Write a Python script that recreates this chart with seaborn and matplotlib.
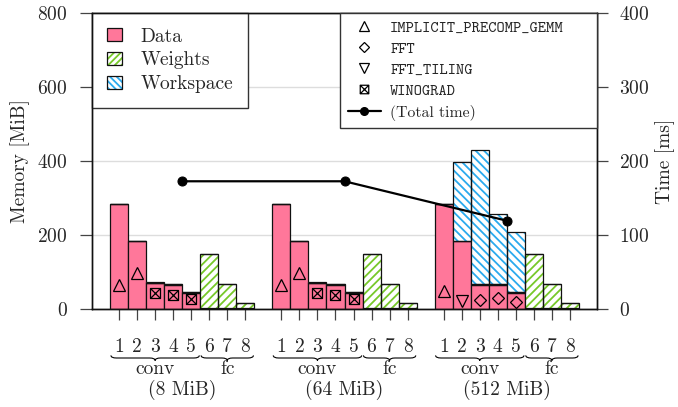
import numpy as np
import pandas as pd
import matplotlib
matplotlib.use("Agg")
import matplotlib.pyplot as plt
from matplotlib.path import Path
from matplotlib.patches import Patch, PathPatch
from matplotlib.lines import Line2D
from matplotlib.legend_handler import HandlerTuple
from matplotlib.transforms import blended_transform_factory
import seaborn as sns

# ---------------- data ----------------
groups = ["(8 MiB)", "(64 MiB)", "(512 MiB)"]
layer_labels = ["1", "2", "3", "4", "5", "6", "7", "8"]
layer_kinds = ["conv", "fc"]

data_8 = [283, 183, 69, 66, 44, 1.5, 1.5, 1.5]
data_64 = [283, 183, 69, 66, 44, 1.5, 1.5, 1.5]
data_512 = [283, 183, 66, 66, 43, 1.5, 1.5, 1.5]

weights_8 = [0.5, 1, 1, 2, 2, 148, 66.5, 15.5]
weights_64 = [0.5, 1, 1, 2, 2, 148, 66.5, 15.5]
weights_512 = [0.5, 1, 1, 2, 2, 148, 66.5, 15.5]

workspace_8 = [0, 0, 4, 0, 0, 0, 0, 0]
workspace_64 = [0, 0, 4, 0, 0, 0, 0, 0]
workspace_512 = [1, 212, 363, 190, 163, 0, 0, 0]

time_8 = [32.4, 48.2, 22.0, 18.9, 14.0]
time_64 = [32.4, 48.2, 22.0, 18.9, 14.0]
time_512 = [24.3, 11.2, 12.6, 15.3, 9.9]

algo_8 = ["IMPLICIT_PRECOMP_GEMM", "IMPLICIT_PRECOMP_GEMM", "WINOGRAD", "WINOGRAD", "WINOGRAD"]
algo_64 = ["IMPLICIT_PRECOMP_GEMM", "IMPLICIT_PRECOMP_GEMM", "WINOGRAD", "WINOGRAD", "WINOGRAD"]
algo_512 = ["IMPLICIT_PRECOMP_GEMM", "FFT_TILING", "FFT", "FFT", "FFT"]

total_time = [172.6, 172.6, 119.3]

algo_names = ["IMPLICIT_PRECOMP_GEMM", "FFT", "FFT_TILING", "WINOGRAD"]

# ---------------- style ----------------
sns.set_style("ticks")
plt.rcParams.update({
    "font.family": ["cmr10", "DejaVu Serif"],
    "mathtext.fontset": "cm",
    "axes.formatter.use_mathtext": True,
    "axes.unicode_minus": False,
    "hatch.linewidth": 1.3,
    "font.size": 14,
})

PINK = "#FF779A"
GREEN = "#77C92A"
BLUE = "#2AAAEE"
EDGE = "#111111"

fig = plt.figure(figsize=(6.78, 4.07), dpi=100)
ax = fig.add_axes([92 / 678, 1 - 309 / 407, (597 - 92) / 678, (309 - 13) / 407])
ax2 = ax.twinx()

data_all = [data_8, data_64, data_512]
weights_all = [weights_8, weights_64, weights_512]
work_all = [workspace_8, workspace_64, workspace_512]
time_all = [time_8, time_64, time_512]
algo_all = [algo_8, algo_64, algo_512]

rows = []
for g, grp in enumerate(groups):
    for i, lab in enumerate(layer_labels):
        rows.append(dict(group=grp, layer=lab, pos=g * 9 + i,
                         data=data_all[g][i], weights=weights_all[g][i],
                         workspace=work_all[g][i]))
df = pd.DataFrame(rows)

W = 1.0
x = df["pos"].values
d = df["data"].values
w = df["weights"].values
s = df["workspace"].values

# data
ax.bar(x, d, width=W, color=PINK, edgecolor=EDGE, linewidth=0.9, zorder=2)
# weights (hatched)
ax.bar(x, w, bottom=d, width=W, facecolor="white", edgecolor=GREEN, linewidth=0,
       hatch="////", zorder=2)
ax.bar(x, w, bottom=d, width=W, fill=False, edgecolor=EDGE, linewidth=0.9, zorder=3)
# workspace (hatched)
ax.bar(x, s, bottom=d + w, width=W, facecolor="white", edgecolor=BLUE, linewidth=0,
       hatch="\\\\\\\\", zorder=2)
ax.bar(x, s, bottom=d + w, width=W, fill=False, edgecolor=EDGE, linewidth=0.9, zorder=3)

ax.set_xlim(-1.5, 26.5)
ax.set_ylim(0, 800)
ax.set_yticks([0, 200, 400, 600, 800])
ax.set_ylabel("Memory [MiB]", fontsize=14, labelpad=5)
ax.yaxis.grid(True, color="#dddddd", linewidth=1.0)
ax.set_axisbelow(True)
ax.set_xticks(x, [df["layer"][k] for k in range(len(df))])
ax.tick_params(axis="x", direction="out", length=8, width=0.9, pad=13,
               labelsize=14, color="#444444")
ax.tick_params(axis="y", direction="out", length=8.5, width=0.9, pad=9,
               labelsize=14, color="#444444")
for sp in ax.spines.values():
    sp.set_color(EDGE)
    sp.set_linewidth(1.0)

# time axis
ax2.set_ylim(0, 400)
ax2.set_yticks([0, 100, 200, 300, 400])
ax2.tick_params(axis="y", direction="out", length=8, width=0.9, pad=8,
                labelsize=14, color="#444444")
for sp in ax2.spines.values():
    sp.set_color(EDGE)
    sp.set_linewidth(1.0)

# boxtimes marker
bt_verts = [(-1, -1), (1, -1), (1, 1), (-1, 1), (-1, -1),
            (-1, -1), (1, 1), (-1, 1), (1, -1)]
bt_codes = [Path.MOVETO, Path.LINETO, Path.LINETO, Path.LINETO, Path.CLOSEPOLY,
            Path.MOVETO, Path.LINETO, Path.MOVETO, Path.LINETO]
boxtimes = Path(bt_verts, bt_codes)

marker_style = {
    "IMPLICIT_PRECOMP_GEMM": dict(marker="^", markersize=8.5),
    "FFT": dict(marker="D", markersize=6.5),
    "FFT_TILING": dict(marker="v", markersize=8.5),
    "WINOGRAD": dict(marker=boxtimes, markersize=7.2),
}

for g in range(len(groups)):
    for i, (t, a) in enumerate(zip(time_all[g], algo_all[g])):
        ax2.plot([g * 9 + i], [t], linestyle="none", markerfacecolor="none",
                 markeredgecolor="black", markeredgewidth=0.9, zorder=5,
                 **marker_style[a])

centers = [g * 9 + 3.5 for g in range(len(groups))]
tdf = pd.DataFrame(dict(pos=centers, time=total_time))
sns.lineplot(data=tdf, x="pos", y="time", ax=ax2, color="black", linewidth=1.6,
             marker="o", markersize=6.5, markeredgecolor="black", zorder=6,
             legend=False)
ax2.set_xlabel("")
ax2.set_ylabel("Time [ms]", fontsize=14, labelpad=4)
ax.set_xlim(-1.5, 26.5)

# legends
h_data = Patch(facecolor=PINK, edgecolor=EDGE, linewidth=0.9)
h_w = (Patch(facecolor="white", edgecolor=GREEN, linewidth=0, hatch="/////"),
       Patch(fill=False, edgecolor=EDGE, linewidth=0.9))
h_s = (Patch(facecolor="white", edgecolor=BLUE, linewidth=0, hatch="\\\\\\\\\\"),
       Patch(fill=False, edgecolor=EDGE, linewidth=0.9))
leg1 = ax.legend([h_data, h_w, h_s], ["Data", "Weights", "Workspace"],
                 handler_map={tuple: HandlerTuple(ndivide=1, pad=0)},
                 loc="upper left", bbox_to_anchor=(0, 1), borderaxespad=0,
                 fancybox=False, framealpha=1, edgecolor="#333333",
                 fontsize=14, handlelength=0.8, handleheight=0.65,
                 handletextpad=0.95, labelspacing=0.3, borderpad=0.75)
leg1.get_frame().set_linewidth(1.0)

leg_handles = []
for a in algo_names:
    leg_handles.append(Line2D([], [], linestyle="none", markerfacecolor="none",
                              markeredgecolor="black", markeredgewidth=0.9,
                              **{**marker_style[a],
                                 "markersize": marker_style[a]["markersize"] * 0.85}))
leg_handles.append(Line2D([], [], color="black", linewidth=1.6, marker="o",
                          markersize=5.5))
leg2 = ax2.legend(leg_handles, algo_names + ["(Total time)"],
                  loc="upper right", bbox_to_anchor=(0.491, 0, 0.509, 1.0),
                  mode="expand", borderaxespad=0, fancybox=False, framealpha=1,
                  edgecolor="#333333", fontsize=11.3, handlelength=2.1,
                  handletextpad=0.6, labelspacing=0.38, borderpad=0.5)
leg2.get_frame().set_linewidth(1.0)
for t in leg2.get_texts()[:4]:
    t.set_fontfamily(["cmtt10", "DejaVu Sans Mono"])

# braces and group labels under the axis
trans = blended_transform_factory(ax.transData, fig.transFigure)


def brace(x0, x1, yc, h=2.6 / 407, r=0.3):
    xm = (x0 + x1) / 2
    yt, yb = yc + h, yc - h
    verts = [(x0, yt), (x0, yc), (x0 + r, yc),
             (xm - r, yc), (xm, yc), (xm, yb),
             (xm, yc), (xm + r, yc),
             (x1 - r, yc), (x1, yc), (x1, yt)]
    codes = [Path.MOVETO, Path.CURVE3, Path.CURVE3,
             Path.LINETO, Path.CURVE3, Path.CURVE3,
             Path.CURVE3, Path.CURVE3,
             Path.LINETO, Path.CURVE3, Path.CURVE3]
    p = PathPatch(Path(verts, codes), transform=trans, fill=False,
                  edgecolor="black", linewidth=0.8, clip_on=False)
    fig.add_artist(p)


y_brace = 1 - 358 / 407
y_kind = 1 - 369 / 407
y_group = 1 - 390 / 407
for g, grp in enumerate(groups):
    base = g * 9
    brace(base - 0.45, base + 4.45, y_brace)
    brace(base + 4.55, base + 7.45, y_brace)
    fig.text(0, y_kind, layer_kinds[0], transform=trans, ha="center", va="center",
             fontsize=14).set_x(base + 2)
    fig.text(0, y_kind, layer_kinds[1], transform=trans, ha="center", va="center",
             fontsize=14).set_x(base + 6)
    fig.text(0, y_group, grp, transform=trans, ha="center", va="center",
             fontsize=14).set_x(base + 3.5)

fig.savefig("out.png", dpi=100)
